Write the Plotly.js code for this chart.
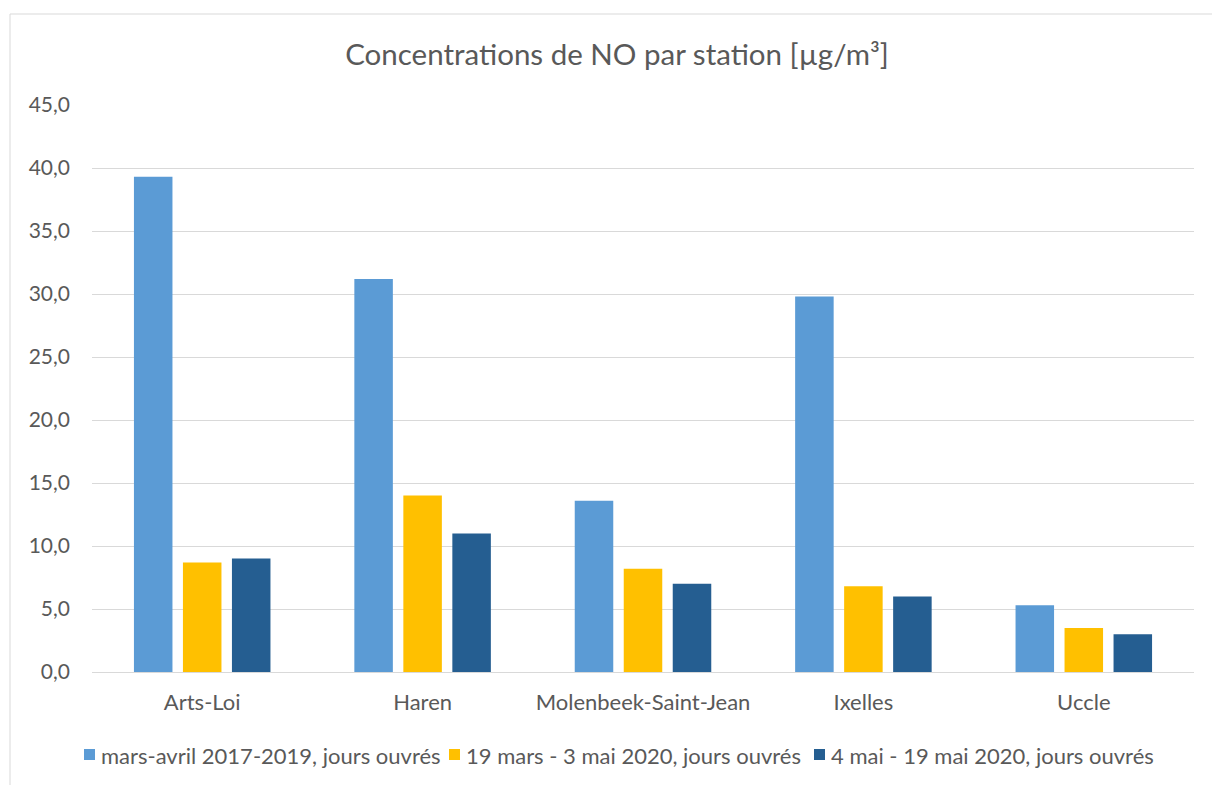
<!DOCTYPE html>
<html>
<head>
<meta charset="utf-8">
<script src="https://cdn.plot.ly/plotly-3.0.1.min.js"></script>
<style>
  html, body { margin: 0; padding: 0; background: #ffffff; }
  #chart { width: 1212px; height: 785px; }
</style>
</head>
<body>
<div id="chart"></div>
<script>
const stations = ["Arts-Loi", "Haren", "Molenbeek-Saint-Jean", "Ixelles", "Uccle"];
const seriesNames = [
  "mars-avril 2017-2019, jours ouvrés",
  "19 mars - 3 mai 2020, jours ouvrés",
  "4 mai - 19 mai 2020, jours ouvrés"
];
const values2017_2019 = [39.3, 31.2, 13.6, 29.8, 5.3];
const valuesMarsMai2020 = [8.7, 14.0, 8.2, 6.8, 3.5];
const valuesMai2020 = [9.0, 11.0, 7.0, 6.0, 3.0];
const seriesColors = ["#5B9BD5", "#FFC000", "#255E91"];
const yTicks = [0, 5, 10, 15, 20, 25, 30, 35, 40, 45];

const FONT = "Lato, 'Open Sans', sans-serif";
const allValues = [values2017_2019, valuesMarsMai2020, valuesMai2020];
const traces = allValues.map((vals, i) => ({
  type: "bar",
  name: seriesNames[i],
  x: stations,
  y: vals,
  marker: { color: seriesColors[i] },
  hoverinfo: "x+y"
}));

const W = 1212, H = 785;
const L = 92, R = 18, T = 105, B = 113;
const pw = W - L - R, ph = H - T - B;
const px = v => (v - L) / pw;
const py = v => 1 - (v - T) / ph;

// manual legend (layout positions only)
const legendStarts = [84, 449, 814];
const legendY = 755;
const shapes = [
  { type: "line", xref: "paper", yref: "paper",
    x0: px(10), x1: px(1230), y0: py(14), y1: py(14),
    line: { color: "#D9D9D9", width: 1 } },
  { type: "line", xref: "paper", yref: "paper",
    x0: px(10), x1: px(10), y0: py(14), y1: py(800),
    line: { color: "#D9D9D9", width: 1 } }
];
const annotations = [];
seriesNames.forEach((name, i) => {
  const sx = legendStarts[i];
  shapes.push({ type: "rect", xref: "paper", yref: "paper",
    x0: px(sx), x1: px(sx + 11), y0: py(legendY - 6), y1: py(legendY + 5),
    fillcolor: seriesColors[i], line: { width: 0 } });
  annotations.push({ xref: "paper", yref: "paper", x: px(sx + 15), y: py(legendY),
    xanchor: "left", yanchor: "middle", showarrow: false, text: name,
    font: { family: FONT, size: 22, color: "#595959" } });
});

const layout = {
  width: W, height: H,
  margin: { l: L, r: R, t: T, b: B, pad: 0 },
  paper_bgcolor: "#ffffff",
  plot_bgcolor: "#ffffff",
  separators: ", ",
  font: { family: FONT, color: "#595959", size: 21 },
  title: {
    text: "Concentrations de NO par station [µg/m³]",
    x: 617 / W, xref: "container", xanchor: "center",
    y: 1 - 55 / H, yanchor: "middle",
    font: { size: 29.5, color: "#595959", family: FONT }
  },
  barmode: "group",
  bargap: 0.333,
  bargroupgap: 0.214,
  xaxis: {
    type: "category",
    showgrid: false,
    showline: true,
    linecolor: "#D9D9D9",
    linewidth: 1,
    ticks: "",
    ticklabelstandoff: 11,
    tickfont: { size: 22, color: "#595959", family: FONT },
    fixedrange: true
  },
  yaxis: {
    range: [0, 45],
    tickvals: yTicks,
    tickformat: ".1f",
    showgrid: true,
    gridcolor: "#D9D9D9",
    gridwidth: 1,
    zeroline: false,
    showline: false,
    ticks: "",
    ticklabelstandoff: 21,
    tickfont: { size: 21, color: "#595959", family: FONT },
    fixedrange: true
  },
  showlegend: false,
  shapes: shapes,
  annotations: annotations
};

Plotly.newPlot("chart", traces, layout, { displayModeBar: false, staticPlot: true });
</script>
</body>
</html>
